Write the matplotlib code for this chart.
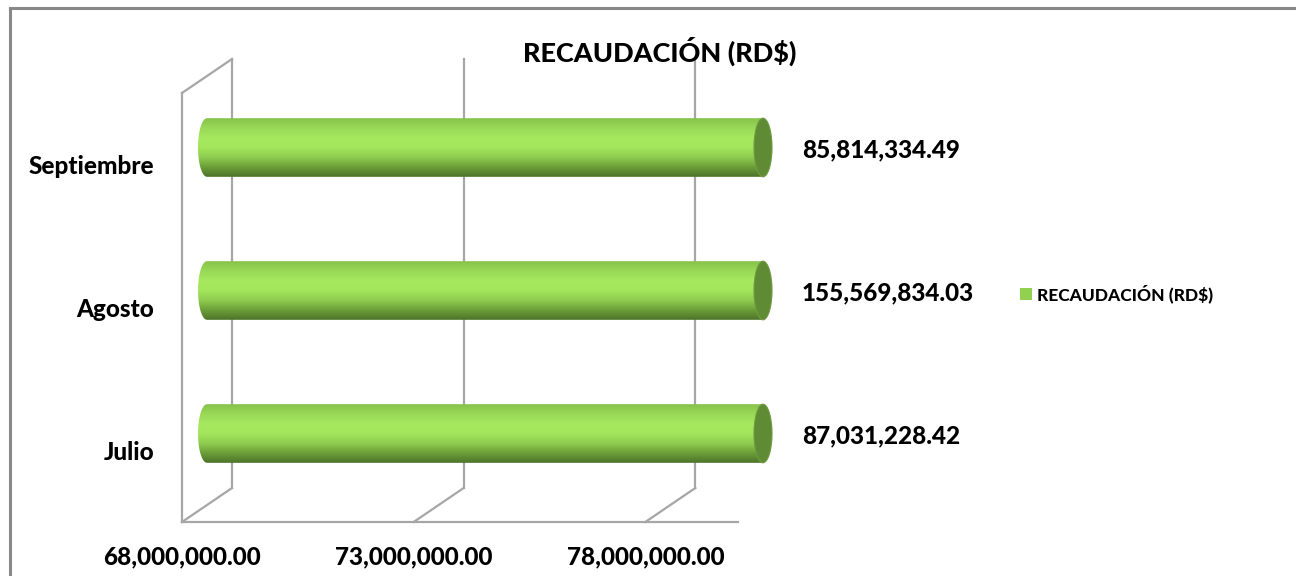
import numpy as np
import matplotlib
matplotlib.use('Agg')
import matplotlib.pyplot as plt
from matplotlib.transforms import offset_copy, ScaledTranslation
from matplotlib.patches import Polygon, Ellipse, Patch
from matplotlib.lines import Line2D

# Data
meses = ['Julio', 'Agosto', 'Septiembre']
recaudacion = [87031228.42, 155569834.03, 85814334.49]
ticks = [68000000, 73000000, 78000000]
titulo = 'RECAUDACIÓN (RD$)'

XMIN, XMAX = 68000000, 80000000
W, H = 1296, 576
FONT = 'Lato'
WEIGHT = 'black'
GRID = '#a6a6a6'

plt.rcParams['font.family'] = [FONT, 'DejaVu Sans']

fig = plt.figure(figsize=(W / 100, H / 100), dpi=100)
ax = fig.add_axes([182 / W, (H - 522) / H, (738 - 182) / W, (522 - 93) / H])
ax.set_xlim(XMIN, XMAX)
ax.set_ylim(-0.5, len(meses) - 0.5)

# depth transforms for the pseudo-3D look
back = offset_copy(ax.transData, fig=fig, x=50, y=34, units='dots')
mid = offset_copy(ax.transData, fig=fig, x=25, y=17, units='dots')

y0, y1 = ax.get_ylim()
kw = dict(color=GRID, lw=1.6, clip_on=False, zorder=1)


def depth_line(x, y):
    # line from the front plane to the back wall at data point (x, y)
    pf = ax.transData.transform((x, y))
    pb = back.transform((x, y))
    fig.add_artist(Line2D([pf[0] / W, pb[0] / W], [pf[1] / H, pb[1] / H],
                          color=GRID, lw=1.6, zorder=1))


# back wall gridlines + floor diagonals
for t in ticks:
    ax.plot([t, t], [y0, y1], transform=back, **kw)
    depth_line(t, y0)
# left wall
ax.plot([XMIN, XMIN], [y0, y1], **kw)
depth_line(XMIN, y1)
# floor front edge
ax.plot([XMIN, XMAX], [y0, y0], **kw)

# cylinder bars
bar_h = 0.41
cap_a = 9 * (XMAX - XMIN) / (738 - 182)
grad_cols = np.array([
    [0.53, 0.76, 0.29],
    [0.60, 0.85, 0.34],
    [0.65, 0.91, 0.37],
    [0.64, 0.90, 0.36],
    [0.56, 0.80, 0.31],
    [0.42, 0.62, 0.22],
    [0.30, 0.45, 0.16],
])
pos = np.linspace(0, 1, len(grad_cols))
rows = np.linspace(0, 1, 200)
grad = np.stack([np.interp(rows, pos, grad_cols[:, k]) for k in range(3)], axis=1)
grad = grad[:, None, :]

for i, v in enumerate(recaudacion):
    x0, x1 = XMIN, min(v, XMAX)
    top, bot = i + bar_h / 2, i - bar_h / 2
    t = np.linspace(-np.pi / 2, np.pi / 2, 40)
    arc = np.column_stack([x0 - cap_a * np.cos(t), i + bar_h / 2 * np.sin(t)])
    pts = np.vstack([[[x0, top], [x1, top], [x1, bot], [x0, bot]], arc])
    body = Polygon(pts, closed=True, transform=mid, facecolor='none', edgecolor='none')
    ax.add_patch(body)
    im = ax.imshow(grad, extent=(x0 - cap_a, x1, bot, top), aspect='auto',
                   transform=mid, zorder=2, interpolation='bilinear')
    im.set_clip_box(fig.bbox)
    im.set_clip_path(body)
    cap = Ellipse((x1, i), 2 * cap_a, bar_h, transform=mid, facecolor='#5f8b35',
                  edgecolor='#6f9a42', lw=0.8, zorder=3, clip_on=False)
    ax.add_patch(cap)
    ax.annotate(f'{v:,.2f}', xy=(x1, i), xycoords=mid, xytext=(39 * 0.72, -2),
                textcoords='offset points', ha='left', va='center',
                fontsize=17.5, fontweight=WEIGHT, color='black', annotation_clip=False)

ax.set_xlim(XMIN, XMAX)
ax.set_ylim(-0.5, len(meses) - 0.5)

# axes labels
ax.set_xticks(ticks)
ax.set_xticklabels([f'{t:,.2f}' for t in ticks], fontsize=17.5, fontweight=WEIGHT)
ax.set_yticks(range(len(meses)))
ax.set_yticklabels(meses, fontsize=17.5, fontweight=WEIGHT)
shift = ScaledTranslation(0, -5 / 100, fig.dpi_scale_trans)
for lab in ax.get_yticklabels():
    lab.set_transform(lab.get_transform() + shift)
ax.tick_params(axis='x', length=0, pad=17)
ax.tick_params(axis='y', length=0, pad=20)
for s in ax.spines.values():
    s.set_visible(False)
ax.patch.set_visible(False)

fig.text(660 / W, 1 - 51 / H, titulo, ha='center', va='center',
         fontsize=19.5, fontweight=WEIGHT)

leg = fig.legend(handles=[Patch(facecolor='#92d050', label=titulo)],
                 loc='center left', bbox_to_anchor=(1004 / W, 1 - 294 / H),
                 frameon=False, handlelength=0.7, handleheight=0.7, handletextpad=0.3,
                 prop={'family': FONT, 'weight': WEIGHT, 'size': 12.5})

# chart area border
fig.add_artist(Line2D([10 / W, 1], [1 - 8 / H, 1 - 8 / H], color='#888888', lw=2.2))
fig.add_artist(Line2D([10 / W, 10 / W], [0, 1 - 8 / H], color='#888888', lw=2.2))

fig.savefig('out.png', dpi=100)
